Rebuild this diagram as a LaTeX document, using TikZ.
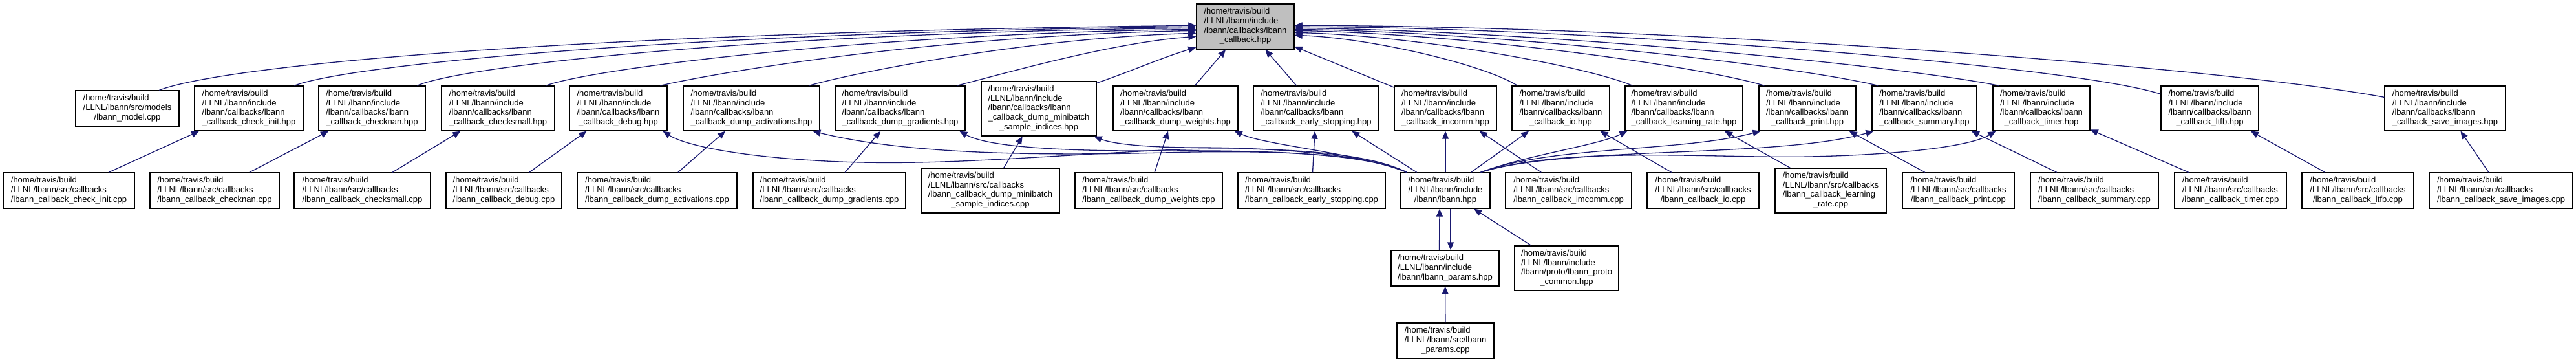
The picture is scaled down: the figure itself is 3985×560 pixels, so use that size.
\documentclass[tikz,border=0pt]{standalone}
\usepackage{fontspec}
\setmainfont{Liberation Sans}
\usetikzlibrary{arrows.meta}
\definecolor{edgecol}{HTML}{191970}
\definecolor{rootfill}{HTML}{BFBFBF}
\newcommand\Lb[2]{\begin{tabular}{@{}l@{}}#1\\\multicolumn{1}{@{}c@{}}{#2}\end{tabular}}
\newcommand\pHB{/home/travis/build}
\newcommand\pLI{/LLNL/lbann/include}
\newcommand\pLC{/lbann/callbacks/lbann}
\newcommand\pLS{/LLNL/lbann/src/callbacks}
\newcommand\hppL[1]{\Lb{\pHB\\\pLI\\\pLC}{\_callback\_#1.hpp}}
\newcommand\cppL[1]{\Lb{\pHB\\\pLS}{/lbann\_callback\_#1.cpp}}
\begin{document}
\begin{tikzpicture}[x=1pt,y=-1pt,
  box/.style={draw=black,line width=1.3pt,fill=white,rectangle,inner sep=0pt,
    font=\fontsize{13}{14.7}\selectfont},
  edge/.style={draw=edgecol,line width=1.3pt,-{Triangle[length=12pt,width=10pt]}}]
\useasboundingbox (0,0) rectangle (3985,560);
% root
\node[box,fill=rootfill,minimum width=151pt,minimum height=70pt] (root) at (1926.5,41) {\Lb{\pHB\\\pLI\\\pLC}{\_callback.hpp}};
% row 2
\node[box,minimum width=160pt,minimum height=55pt] (model) at (197,167.5) {\Lb{\pHB\\/LLNL/lbann/src/models}{/lbann\_model.cpp}};
\node[box,minimum width=168pt,minimum height=69pt] (hci) at (385,167.5) {\hppL{check\_init}};
\node[box,minimum width=165pt,minimum height=69pt] (hcn) at (575.5,167.5) {\hppL{checknan}};
\node[box,minimum width=175pt,minimum height=69pt] (hcs) at (770.5,167.5) {\hppL{checksmall}};
\node[box,minimum width=151pt,minimum height=69pt] (hdb) at (956.5,167.5) {\hppL{debug}};
\node[box,minimum width=211pt,minimum height=69pt] (hda) at (1162.5,167.5) {\hppL{dump\_activations}};
\node[box,minimum width=201pt,minimum height=69pt] (hdg) at (1392.5,167.5) {\hppL{dump\_gradients}};
\node[box,minimum width=178pt,minimum height=84pt] (hmb) at (1607,168) {\Lb{\pHB\\\pLI\\\pLC\\\_callback\_dump\_minibatch}{\_sample\_indices.hpp}};
\node[box,minimum width=193pt,minimum height=69pt] (hdw) at (1818.5,167.5) {\hppL{dump\_weights}};
\node[box,minimum width=194pt,minimum height=69pt] (hes) at (2036,167.5) {\hppL{early\_stopping}};
\node[box,minimum width=158pt,minimum height=69pt] (him) at (2236,167.5) {\hppL{imcomm}};
\node[box,minimum width=151pt,minimum height=69pt] (hio) at (2414.5,167.5) {\hppL{io}};
\node[box,minimum width=182pt,minimum height=69pt] (hlr) at (2605,167.5) {\hppL{learning\_rate}};
\node[box,minimum width=150pt,minimum height=69pt] (hpr) at (2796,167.5) {\hppL{print}};
\node[box,minimum width=162pt,minimum height=69pt] (hsu) at (2977,167.5) {\hppL{summary}};
\node[box,minimum width=150pt,minimum height=69pt] (hti) at (3158,167.5) {\hppL{timer}};
\node[box,minimum width=151pt,minimum height=69pt] (hlt) at (3418.5,167.5) {\hppL{ltfb}};
\node[box,minimum width=187pt,minimum height=69pt] (hsi) at (3782.5,167.5) {\hppL{save\_images}};
% row 3
\node[box,minimum width=203pt,minimum height=55pt] (cci) at (106.5,294.5) {\cppL{check\_init}};
\node[box,minimum width=200pt,minimum height=55pt] (ccn) at (332,294.5) {\cppL{checknan}};
\node[box,minimum width=211pt,minimum height=55pt] (ccs) at (560.5,294.5) {\cppL{checksmall}};
\node[box,minimum width=179pt,minimum height=55pt] (cdb) at (779.5,294.5) {\cppL{debug}};
\node[box,minimum width=247pt,minimum height=55pt] (cda) at (1016.5,294.5) {\cppL{dump\_activations}};
\node[box,minimum width=236pt,minimum height=55pt] (cdg) at (1283,294.5) {\cppL{dump\_gradients}};
\node[box,minimum width=214pt,minimum height=69pt] (cmb) at (1532,294.5) {\Lb{\pHB\\\pLS\\/lbann\_callback\_dump\_minibatch}{\_sample\_indices.cpp}};
\node[box,minimum width=228pt,minimum height=55pt] (cdw) at (1777,294.5) {\cppL{dump\_weights}};
\node[box,minimum width=228pt,minimum height=55pt] (ces) at (2029,294.5) {\cppL{early\_stopping}};
\node[box,minimum width=138pt,minimum height=55pt] (lbann) at (2236,294.5) {\Lb{\pHB\\\pLI}{/lbann/lbann.hpp}};
\node[box,minimum width=195pt,minimum height=55pt] (cim) at (2426.5,294.5) {\cppL{imcomm}};
\node[box,minimum width=173pt,minimum height=55pt] (cio) at (2634.5,294.5) {\cppL{io}};
\node[box,minimum width=172pt,minimum height=69pt] (clr) at (2832,294.5) {\Lb{\pHB\\\pLS\\/lbann\_callback\_learning}{\_rate.cpp}};
\node[box,minimum width=173pt,minimum height=55pt] (cpr) at (3029.5,294.5) {\cppL{print}};
\node[box,minimum width=198pt,minimum height=55pt] (csu) at (3240,294.5) {\cppL{summary}};
\node[box,minimum width=173pt,minimum height=55pt] (cti) at (3450.5,294.5) {\cppL{timer}};
\node[box,minimum width=173pt,minimum height=55pt] (clt) at (3647.5,294.5) {\cppL{ltfb}};
\node[box,minimum width=222pt,minimum height=55pt] (csi) at (3869,294.5) {\cppL{save\_images}};
% rows 4 and 5
\node[box,minimum width=167pt,minimum height=55pt] (parh) at (2235.5,414.5) {\Lb{\pHB\\\pLI}{/lbann/lbann\_params.hpp}};
\node[box,minimum width=161pt,minimum height=69pt] (proto) at (2423.5,414.5) {\Lb{\pHB\\\pLI\\/lbann/proto/lbann\_proto}{\_common.hpp}};
\node[box,minimum width=150pt,minimum height=55pt] (parc) at (2236,526.5) {\Lb{\pHB\\/LLNL/lbann/src/lbann}{\_params.cpp}};
% edges to root, left side
\draw[edge] ([xshift=130pt]model.north west) .. controls (350,100) and (900,50) .. ([yshift=-34pt]root.north west);
\draw[edge] ([xshift=155pt]hci.north west) .. controls (540,100) and (1050,50) .. ([yshift=-36pt]root.north west);
\draw[edge] ([xshift=153pt]hcn.north west) .. controls (720,100) and (1200,50) .. ([yshift=-38pt]root.north west);
\draw[edge] ([xshift=162pt]hcs.north west) .. controls (920,105) and (1350,52) .. ([yshift=-40pt]root.north west);
\draw[edge] ([xshift=141pt]hdb.north west) .. controls (1120,110) and (1450,55) .. ([yshift=-42pt]root.north west);
\draw[edge] ([xshift=195pt]hda.north west) .. controls (1330,110) and (1600,58) .. ([yshift=-46pt]root.north west);
\draw[edge] ([xshift=189pt]hdg.north west) .. controls (1560,112) and (1720,66) .. ([yshift=-51pt]root.north west);
\draw[edge] ([yshift=-3pt]hmb.north east) .. controls (1750,110) and (1800,88) .. ([yshift=-68pt]root.north west);
\draw[edge] (hdw) -- (root);
\draw[edge] (hes) -- (root);
\draw[edge] (him) -- (root);
% edges to root, right side
\draw[edge] ([xshift=9pt]hio.north west) .. controls (2296,100) and (2123,59) .. ([yshift=-49pt]root.north east);
\draw[edge] ([xshift=12pt]hlr.north west) .. controls (2447,100) and (2185,55) .. ([yshift=-45pt]root.north east);
\draw[edge] ([xshift=9pt]hpr.north west) .. controls (2621,100) and (2257,52) .. ([yshift=-42pt]root.north east);
\draw[edge] ([xshift=10pt]hsu.north west) .. controls (2770,100) and (2318,50) .. ([yshift=-40pt]root.north east);
\draw[edge] ([xshift=10pt]hti.north west) .. controls (2929,100) and (2384,48) .. ([yshift=-38pt]root.north east);
\draw[edge] ([yshift=-13pt]hlt.north west) .. controls (3200,100) and (2450,42) .. ([yshift=-36pt]root.north east);
\draw[edge] ([yshift=-18pt]hsi.north west) .. controls (3450,105) and (2600,40) .. ([yshift=-34pt]root.north east);
% lbann.hpp to callback headers
\draw[edge] ([xshift=10pt]lbann.north west) .. controls (2110,232) and (1950,226) .. (1800,232) .. controls (1600,242) and (1450,256) .. (1300,250) .. controls (1150,244) and (1060,225) .. ([xshift=145pt]hdb.south west);
\draw[edge] ([xshift=10pt]lbann.north west) .. controls (2110,235) and (1950,232) .. (1800,236) .. controls (1600,241) and (1400,238) .. ([xshift=201pt]hda.south west);
\draw[edge] ([xshift=10pt]lbann.north west) .. controls (2110,236) and (1950,232) .. (1800,233) .. controls (1650,234) and (1530,228) .. ([xshift=193pt]hdg.south west);
\draw[edge] ([xshift=10pt]lbann.north west) .. controls (2110,236) and (1950,228) .. (1850,228) .. controls (1770,228) and (1720,222) .. ([xshift=-4pt]hmb.south east);
\draw[edge] ([xshift=10pt]lbann.north west) .. controls (2100,236) and (1960,225) .. ([xshift=-6pt]hdw.south east);
\draw[edge] (lbann) -- (hes);
\draw[edge] (lbann) -- (him);
\draw[edge] (lbann) -- (hio);
\draw[edge] ([xshift=-15pt]lbann.north east) .. controls (2360,240) and (2470,225) .. ([xshift=4pt]hlr.south west);
\draw[edge] ([xshift=-15pt]lbann.north east) .. controls (2400,225) and (2600,235) .. ([xshift=3pt]hpr.south west);
\draw[edge] ([xshift=-15pt]lbann.north east) .. controls (2420,225) and (2750,245) .. ([xshift=3pt]hsu.south west);
\draw[edge] ([xshift=-15pt]lbann.north east) .. controls (2420,225) and (2650,245) .. (2800,242) .. controls (2950,239) and (3050,225) .. ([xshift=5pt]hti.south west);
% cpp to hpp
\draw[edge] (cci) -- (hci);
\draw[edge] (ccn) -- (hcn);
\draw[edge] (ccs) -- (hcs);
\draw[edge] (cdb) -- (hdb);
\draw[edge] (cda) -- (hda);
\draw[edge] (cdg) -- (hdg);
\draw[edge] (cmb) -- (hmb);
\draw[edge] (cdw) -- (hdw);
\draw[edge] (ces) -- (hes);
\draw[edge] (cim) -- (him);
\draw[edge] (cio) -- (hio);
\draw[edge] (clr) -- (hlr);
\draw[edge] (cpr) -- (hpr);
\draw[edge] (csu) -- (hsu);
\draw[edge] (cti) -- (hti);
\draw[edge] (clt) -- (hlt);
\draw[edge] (csi) -- (hsi);
% lower part
\draw[edge] ([xshift=-9pt]parh.north) -- ([xshift=-9pt]lbann.south);
\draw[edge] ([xshift=8pt]lbann.south) -- ([xshift=8.5pt]parh.north);
\draw[edge] (proto) -- (lbann);
\draw[edge] (parc) -- (parh);
\end{tikzpicture}
\end{document}
